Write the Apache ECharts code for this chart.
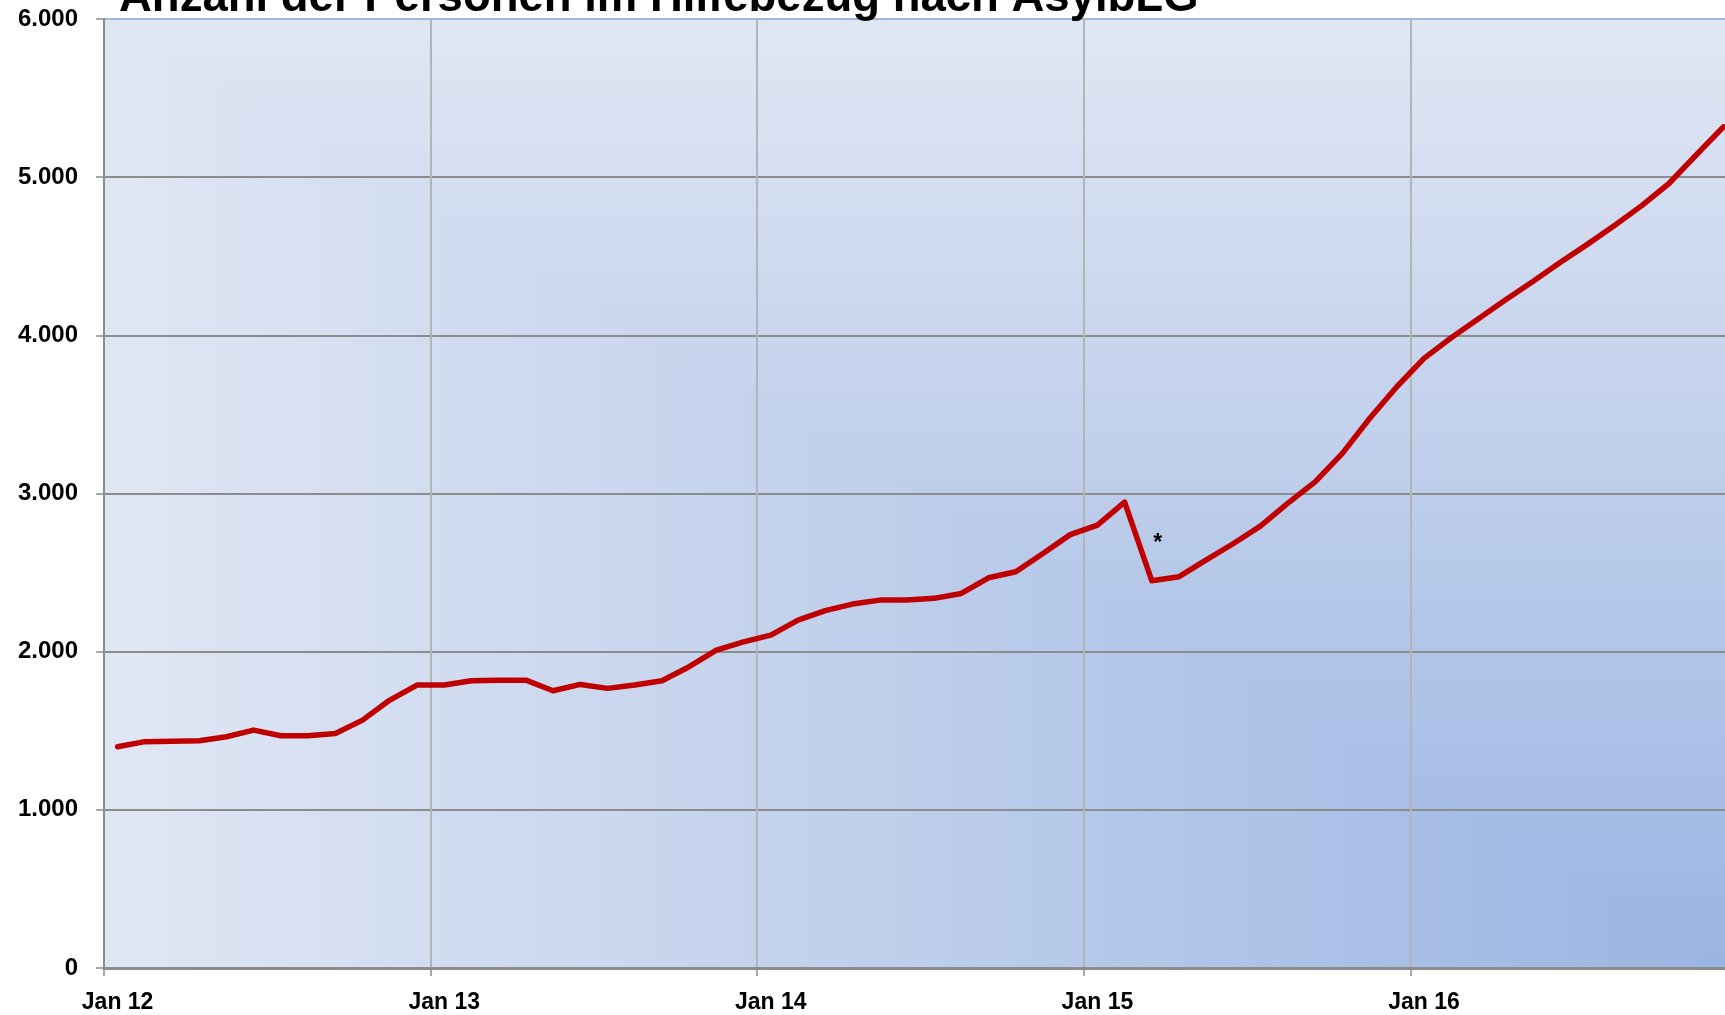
<!DOCTYPE html>
<html>
<head>
<meta charset="utf-8">
<title>Anzahl der Personen im Hilfebezug nach AsylbLG</title>
<script src="https://cdn.jsdelivr.net/npm/echarts@6/dist/echarts.min.js"></script>
<style>
	html, body { margin: 0; padding: 0; background: #fff; }
	#main { width: 1725px; height: 1015px; }
</style>
</head>
<body>
<div id="main"></div>
<script>
	var titleText = 'Anzahl der Personen im Hilfebezug nach AsylbLG';
	var monthNames = ['Jan', 'Feb', 'Mär', 'Apr', 'Mai', 'Jun', 'Jul', 'Aug', 'Sep', 'Okt', 'Nov', 'Dez'];
	var years = ['12', '13', '14', '15', '16'];

	// Personen je Monat
	var values2012 = [1399, 1431, 1433, 1437, 1462, 1504, 1468, 1468, 1483, 1567, 1694, 1789];
	var values2013 = [1789, 1816, 1820, 1820, 1753, 1793, 1768, 1789, 1816, 1905, 2010, 2062];
	var values2014 = [2105, 2200, 2259, 2301, 2326, 2326, 2337, 2368, 2467, 2505, 2621, 2740];
	var values2015 = [2800, 2946, 2448, 2474, 2580, 2684, 2795, 2939, 3074, 3254, 3474, 3675];
	var values2016 = [3854, 3985, 4105, 4225, 4340, 4460, 4575, 4695, 4820, 4960, 5140, 5318];

	var yTicks = [0, 1000, 2000, 3000, 4000, 5000, 6000];
	var markIndex = 38; // Mär 15, mit * markiert

	var categories = [];
	years.forEach(function (y) {
		monthNames.forEach(function (m) {
			categories.push(m + ' ' + y);
		});
	});

	var allValues = values2012.concat(values2013, values2014, values2015, values2016);
	var seriesData = allValues.map(function (v, i) {
		if (i === markIndex) {
			return {
				value: v,
				label: {
					show: true,
					formatter: '*',
					position: 'top',
					offset: [6, -21],
					fontSize: 23,
					fontWeight: 'bold',
					color: '#000'
				}
			};
		}
		return v;
	});

	var font = "'Liberation Sans', Arial, sans-serif";

	// plot area (runs a bit past the right edge, like the cropped original)
	var x0 = 104, y0 = 19, x1 = 1737, y1 = 968;
	var dark = '#9ab4e2', light = '#e0e7f4';

	var chart = echarts.init(document.getElementById('main'));

	chart.setOption({
		animation: false,
		title: {
			text: titleText,
			left: 119,
			top: -25,
			padding: 0,
			textStyle: {
				fontFamily: font,
				fontSize: 45.5,
				fontWeight: 'bold',
				color: '#000'
			}
		},
		graphic: [{
			type: 'rect',
			z: -10,
			silent: true,
			shape: { x: x0, y: y0, width: x1 - x0, height: y1 - y0 },
			style: {
				fill: {
					type: 'linear', x: x1, y: 0, x2: x0, y2: 0, global: true,
					colorStops: [{ offset: 0, color: dark }, { offset: 1, color: light }]
				}
			}
		}, {
			type: 'polygon',
			z: -9,
			silent: true,
			shape: { points: [[x0, y0], [x1, y0], [x1, y1]] },
			style: {
				fill: {
					type: 'linear', x: 0, y: y1, x2: 0, y2: y0, global: true,
					colorStops: [{ offset: 0, color: dark }, { offset: 1, color: light }]
				}
			}
		}],
		grid: {
			left: x0,
			top: y0,
			width: x1 - x0,
			height: y1 - y0,
			containLabel: false,
			outerBoundsMode: 'none'
		},
		xAxis: {
			type: 'category',
			data: categories,
			boundaryGap: true,
			axisLine: {
				show: true,
				lineStyle: { color: '#8c8c8c', width: 3 }
			},
			axisTick: {
				show: true,
				interval: 11,
				length: 8,
				lineStyle: { color: '#8c8c8c', width: 1.5 }
			},
			axisLabel: {
				interval: 11,
				margin: 23,
				fontFamily: font,
				fontSize: 23,
				fontWeight: 'bold',
				color: '#000'
			},
			splitLine: {
				show: true,
				interval: 11,
				lineStyle: { color: '#b4b4b4', width: 2 }
			}
		},
		yAxis: {
			type: 'value',
			min: yTicks[0],
			max: yTicks[yTicks.length - 1],
			interval: 1000,
			axisLine: {
				show: true,
				lineStyle: { color: '#8c8c8c', width: 2 }
			},
			axisTick: {
				show: true,
				length: 8,
				lineStyle: { color: '#8c8c8c', width: 1.5 }
			},
			axisLabel: {
				margin: 26,
				fontFamily: font,
				fontSize: 24,
				fontWeight: 'bold',
				color: '#000',
				formatter: function (v) {
					return v === 0 ? '0' : (v / 1000) + '.000';
				}
			},
			splitLine: {
				show: true,
				lineStyle: {
					color: ['#8c8c8c', '#8c8c8c', '#8c8c8c', '#8c8c8c', '#8c8c8c', '#8c8c8c', '#a3b8e0'],
					width: 2
				}
			}
		},
		series: [{
			name: 'Personen',
			type: 'line',
			data: seriesData,
			showSymbol: true,
			showAllSymbol: true,
			symbolSize: 0,
			itemStyle: { color: '#c00000' },
			lineStyle: { color: '#c00000', width: 5.5, join: 'round', cap: 'round' },
			label: { show: false }
		}]
	});
</script>
</body>
</html>
